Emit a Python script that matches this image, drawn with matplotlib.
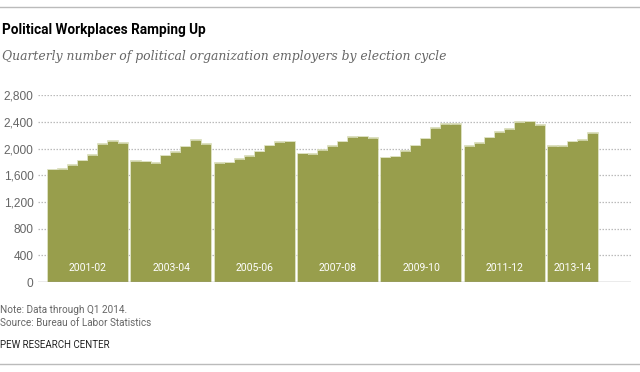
import numpy as np
import matplotlib
matplotlib.use('Agg')
import matplotlib.pyplot as plt
from matplotlib.lines import Line2D

#### DATA

cycles = ['2001-02', '2003-04', '2005-06', '2007-08', '2009-10', '2011-12', '2013-14']

employers = [
	[1685, 1690, 1750, 1820, 1905, 2070, 2115, 2080],
	[1810, 1805, 1785, 1895, 1950, 2030, 2130, 2065],
	[1780, 1790, 1840, 1890, 1955, 2045, 2100, 2105],
	[1925, 1920, 1975, 2035, 2105, 2175, 2180, 2155],
	[1865, 1880, 1960, 2045, 2150, 2305, 2365, 2365],
	[2035, 2080, 2165, 2250, 2295, 2395, 2405, 2355],
	[2035, 2035, 2105, 2125, 2230],
]

yticks = [0, 400, 800, 1200, 1600, 2000, 2400, 2800]

#### STYLE

clr_bar = '#989E4C'
clr_edge = '#D6DAB4'
clr_grid = '#BBBBBB'
clr_text = '#666666'

narrow = ['Roboto', 'Liberation Sans', 'DejaVu Sans']
plain = ['Liberation Sans', 'DejaVu Sans']

group_step = 8.333

#### PLOT

fg = plt.figure(figsize=(6.4, 3.72), dpi=100)
ax = fg.add_axes([0.059, 0.2419, 0.927, 0.5019])

lefts = []
heights = []
for ii_cycle, vals in enumerate(employers):
	for ii_q, v in enumerate(vals):
		lefts.append(ii_cycle*group_step + ii_q)
		heights.append(v)
lefts = np.array(lefts)
heights = np.array(heights)

# light outline first, then the fill on top so only the steps keep it
ax.bar(lefts, heights, width=1, align='edge', color=clr_bar, edgecolor=clr_edge, linewidth=1.2, zorder=2)
ax.bar(lefts, heights - 12, width=1, align='edge', color=clr_bar, linewidth=0, zorder=3)

for ii_cycle, (name, vals) in enumerate(zip(cycles, employers)):
	xc = ii_cycle*group_step + len(vals)/2.
	ax.text(xc, 210, name, ha='center', va='center', color='white', fontsize=7.5, family=narrow, zorder=4)

ax.set_xlim(-1, 58.3)
ax.set_ylim(0, 2800)

ax.set_yticks(yticks)
ax.set_yticklabels(['{:,}'.format(t) for t in yticks], family=plain, fontsize=8.6, color=clr_text)
ax.tick_params(axis='y', length=0, pad=3)
ax.set_xticks([])

for t in yticks[1:]:
	ax.axhline(t, color=clr_grid, linestyle=(0, (1.2, 1.2)), linewidth=0.9, zorder=1)
ax.axhline(0, color='#999999', linewidth=1, zorder=5)

for s in ax.spines.values():
	s.set_visible(False)

# header and footer
fg.add_artist(Line2D([0, 1], [0.982, 0.982], color='#BBBBBB', linewidth=1, transform=fg.transFigure))
fg.add_artist(Line2D([0, 1], [0.0215, 0.0215], color='#BBBBBB', linewidth=1, transform=fg.transFigure))

fg.text(0.003, 0.919, 'Political Workplaces Ramping Up', ha='left', va='center', fontsize=9.8, weight='bold', family=narrow, color='black')
fg.text(0.003, 0.847, 'Quarterly number of political organization employers by election cycle', ha='left', va='center', fontsize=8.9, style='italic', family=['DejaVu Serif'], color='#666666')

fg.text(0.0, 0.1667, 'Note: Data through Q1 2014.', ha='left', va='center', fontsize=7.2, family=narrow, color=clr_text)
fg.text(0.0, 0.1317, 'Source: Bureau of Labor Statistics', ha='left', va='center', fontsize=7.2, family=narrow, color=clr_text)
fg.text(0.0, 0.0726, 'PEW RESEARCH CENTER', ha='left', va='center', fontsize=7, family=narrow, color='#222222')

plt.savefig('out.png', dpi=100)
